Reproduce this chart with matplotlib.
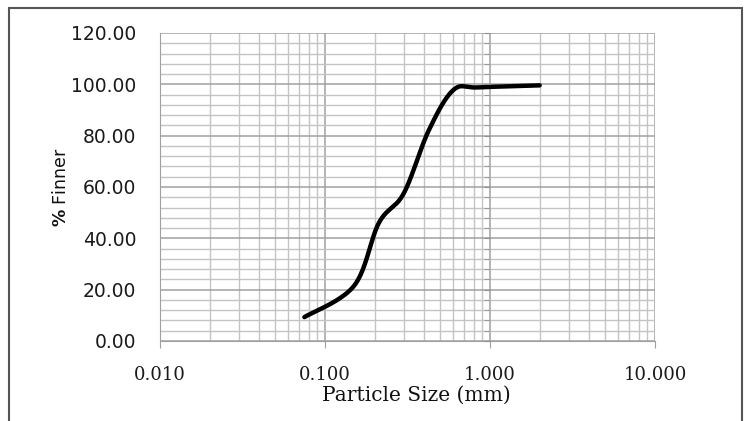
import numpy as np
import matplotlib
matplotlib.use("Agg")
import matplotlib.pyplot as plt
from matplotlib.patches import Rectangle
from matplotlib.ticker import FixedLocator, FuncFormatter, NullFormatter

# sieve data
sizes = [0.075, 0.15, 0.212, 0.3, 0.425, 0.6, 0.85, 2.0]
finer = [9.3, 21.5, 46.0, 57.5, 82.0, 97.8, 98.8, 99.6]
x_ticks = [0.01, 0.1, 1, 10]
y_ticks = [0, 20, 40, 60, 80, 100, 120]


def smooth_line(xs, ys, xscale=165.0, yscale=2.567, n=40):
    # Excel-like smoothed line: cubic bezier with catmull-rom tangents,
    # built in screen-like units (log10 x per decade, y per unit)
    u = np.log10(xs) * xscale
    v = np.asarray(ys) * yscale
    pts = np.column_stack([u, v])
    out = [pts[0]]
    for i in range(len(pts) - 1):
        p0 = pts[i - 1] if i > 0 else pts[i]
        p1 = pts[i]
        p2 = pts[i + 1]
        p3 = pts[i + 2] if i + 2 < len(pts) else pts[i + 1]
        c1 = p1 + (p2 - p0) / 6.0
        c2 = p2 - (p3 - p1) / 6.0
        t = np.linspace(0, 1, n)[1:, None]
        seg = ((1 - t) ** 3) * p1 + 3 * ((1 - t) ** 2) * t * c1 + 3 * (1 - t) * t ** 2 * c2 + t ** 3 * p2
        out.extend(seg)
    out = np.array(out)
    return 10 ** (out[:, 0] / xscale), out[:, 1] / yscale


fig = plt.figure(figsize=(7.48, 4.21), dpi=100)
ax = fig.add_axes([160 / 748, 1 - 341 / 421, 495 / 748, 308 / 421])

ax.set_xscale("log")
ax.set_xlim(0.01, 10)
ax.set_ylim(0, 120)

ax.xaxis.set_major_locator(FixedLocator(x_ticks))
ax.xaxis.set_major_formatter(FuncFormatter(lambda v, p: "%.3f" % v))
minor_x = [m * d for d in [0.01, 0.1, 1] for m in range(2, 10)]
ax.xaxis.set_minor_locator(FixedLocator(minor_x))
ax.xaxis.set_minor_formatter(NullFormatter())
ax.yaxis.set_major_locator(FixedLocator(y_ticks))
ax.yaxis.set_major_formatter(FuncFormatter(lambda v, p: "%.2f" % v))
ax.yaxis.set_minor_locator(FixedLocator(np.arange(0, 121, 4)))

ax.grid(which="major", color="#a0a0a0", lw=1.1)
ax.grid(which="minor", color="#c4c4c4", lw=1.0)
ax.set_axisbelow(True)

for s in ["top", "right"]:
    ax.spines[s].set_visible(False)
for s in ["left", "bottom"]:
    ax.spines[s].set_color("#a0a0a0")

ax.tick_params(axis="x", which="major", length=5, color="#a0a0a0", pad=13,
               labelsize=13, labelfontfamily="DejaVu Serif", labelcolor="#1a1a1a")
ax.tick_params(axis="x", which="minor", length=0)
ax.tick_params(axis="y", which="both", length=0, pad=17, labelsize=13.5, labelcolor="#1a1a1a")

# small ticks on the x = 1 line
ax2 = fig.add_axes(ax.get_position(), frameon=False, sharex=ax, sharey=ax)
for s in ["top", "right", "bottom"]:
    ax2.spines[s].set_visible(False)
ax2.spines["left"].set_visible(True)
ax2.spines["left"].set_position(("data", 1))
ax2.spines["left"].set_color("#909090")
ax2.tick_params(axis="y", which="minor", length=4, color="#909090")
ax2.tick_params(axis="y", which="major", length=4, color="#909090", labelleft=False)
ax2.tick_params(axis="x", which="both", length=0, labelbottom=False)
ax2.patch.set_visible(False)

xs, ys = smooth_line(sizes, finer)
ax.plot(xs, ys, color="black", lw=3.2, solid_capstyle="round")

ax.set_xlabel("Particle Size (mm)", fontsize=14.5, family="DejaVu Serif", labelpad=1,
              color="#111111", x=0.518)
ax.set_ylabel(r"$\mathbf{\%}$ Finner", fontsize=12.5, labelpad=1, color="#111111")

fig.patches.append(Rectangle((9 / 748, -0.1), 733 / 748, 1.1 - 8 / 421,
                             transform=fig.transFigure, fill=False,
                             edgecolor="#555555", lw=1.5))

fig.savefig("out.png", dpi=100)
